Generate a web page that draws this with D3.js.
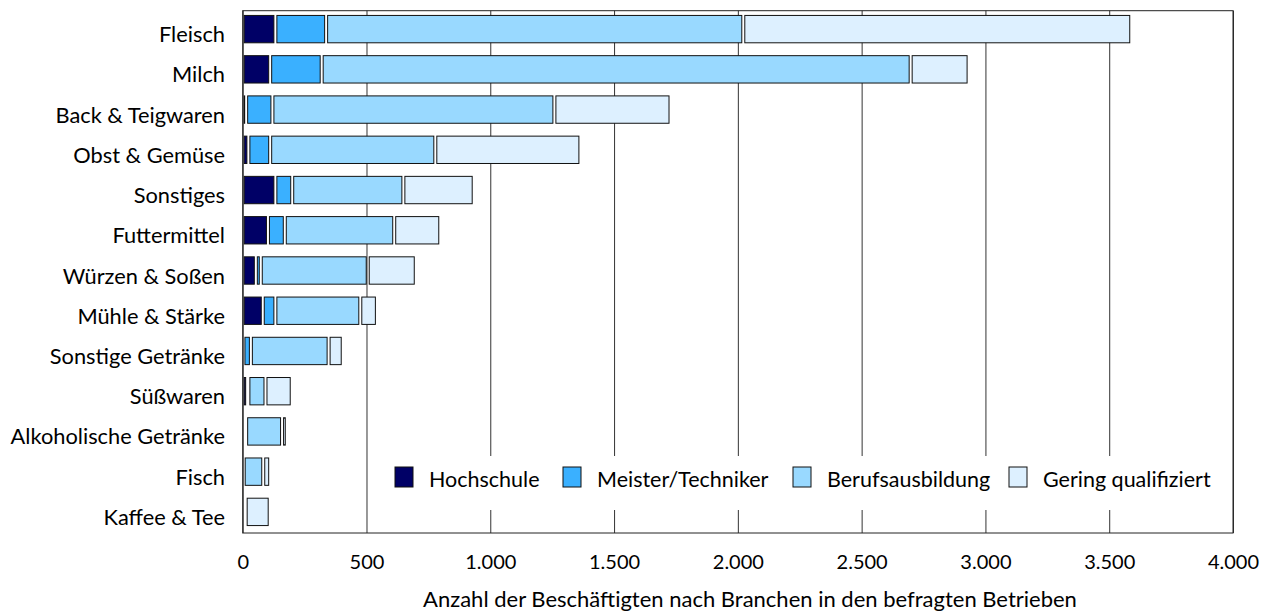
<!DOCTYPE html>
<html>
<head>
<meta charset="utf-8">
<script src="https://cdn.jsdelivr.net/npm/d3@7"></script>
<style>
  body { margin: 0; background: #fff; }
  text { font-family: Lato, "Open Sans", sans-serif; fill: #000; }
</style>
</head>
<body>
<div id="chart"></div>
<script>
/* stacked bars: employees by branch and qualification */

const branchen = ["Fleisch", "Milch", "Back & Teigwaren", "Obst & Gemüse", "Sonstiges",
  "Futtermittel", "Würzen & Soßen", "Mühle & Stärke", "Sonstige Getränke", "Süßwaren",
  "Alkoholische Getränke", "Fisch", "Kaffee & Tee"];

const seriesNames = ["Hochschule", "Meister/Techniker", "Berufsausbildung", "Gering qualifiziert"];

const hochschule = [132, 111, 14, 23, 132, 102, 53, 81, 3, 18, 6, 2, 12];
const meister    = [205, 208, 106, 88, 68, 68, 20, 51, 30, 5, 8, 2, 0];
const beruf      = [1685, 2379, 1139, 667, 449, 442, 432, 343, 314, 69, 145, 79, 0];
const gering     = [1567, 234, 469, 586, 284, 186, 194, 67, 57, 106, 19, 28, 97];

const xTicks = [0, 500, 1000, 1500, 2000, 2500, 3000, 3500, 4000];

let width = 1275,
    height = 616,
    margin = ({ top: 10.7, right: 42, bottom: 83, left: 242.7 });

const colors = ["#000066", "#3ab0ff", "#99d9ff", "#ddf0ff"];
const legendX = [395, 563, 793, 1009]; // left edge of each legend swatch

const svg = d3.select("#chart")
  .append("svg")
  .attr("width", width)
  .attr("height", height);

let x = d3.scaleLinear()
  .domain([0, 4000])
  .range([margin.left, 1233]);

let y = d3.scaleBand()
  .domain(branchen)
  .range([9, 532])
  .paddingInner(0.32)
  .paddingOuter(0.16);

let de = d3.formatLocale({ decimal: ",", thousands: ".", grouping: [3], currency: ["", "€"] });

// gridlines + tick labels
svg.append("g")
  .attr("transform", `translate(0,${height - margin.bottom})`)
  .call(d3.axisBottom(x).tickValues(xTicks).tickFormat(de.format(",")).tickSize(-(height - margin.bottom - margin.top)).tickPadding(22))
  .call(g => g.select(".domain").remove())
  .call(g => g.selectAll(".tick line").attr("stroke", "#333"))
  .call(g => g.selectAll(".tick text").attr("font-size", 20).attr("font-family", "Lato"));

// stacked segments
let table = branchen.map((b, i) => ({
  name: b, Hochschule: hochschule[i], "Meister/Techniker": meister[i],
  Berufsausbildung: beruf[i], "Gering qualifiziert": gering[i]
}));
let stacked = d3.stack().keys(seriesNames)(table);

const gap = 1.5;
stacked.forEach((layer, k) => {
  svg.append("g")
    .selectAll("rect")
    .data(layer.filter(d => d[1] - d[0] > 0))
    .join("rect")
    .attr("x", d => x(d[0]) + gap)
    .attr("y", d => y(d.data.name))
    .attr("width", d => Math.max(0, x(d[1]) - x(d[0]) - 2 * gap))
    .attr("height", y.bandwidth())
    .attr("fill", colors[k])
    .attr("stroke", "#111")
    .attr("stroke-width", 1);
});

// category labels
svg.append("g")
  .selectAll("text")
  .data(branchen)
  .join("text")
  .attr("x", 225)
  .attr("y", d => y(d) + y.bandwidth() / 2 + 13)
  .attr("text-anchor", "end")
  .attr("font-size", 21.8)
  .text(d => d);

// frame
svg.append("rect")
  .attr("x", margin.left)
  .attr("y", margin.top)
  .attr("width", 1233 - margin.left)
  .attr("height", height - margin.bottom - margin.top)
  .attr("fill", "none")
  .attr("stroke", "#222");

// legend
let legend = svg.append("g");
legend.append("rect")
  .attr("x", 380).attr("y", 456)
  .attr("width", 845).attr("height", 54)
  .attr("fill", "#fff");

seriesNames.forEach((s, k) => {
  legend.append("rect")
    .attr("x", legendX[k]).attr("y", 467)
    .attr("width", 18).attr("height", 20)
    .attr("fill", colors[k])
    .attr("stroke", "#111");
  legend.append("text")
    .attr("x", legendX[k] + 34)
    .attr("y", 487)
    .attr("font-size", 21.5)
    .text(s);
});

// axis title
svg.append("text")
  .attr("x", 750)
  .attr("y", 607)
  .attr("text-anchor", "middle")
  .attr("font-size", 22)
  .text("Anzahl der Beschäftigten nach Branchen in den befragten Betrieben");
</script>
</body>
</html>
